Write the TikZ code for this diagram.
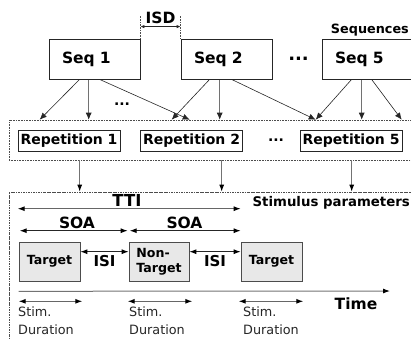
\documentclass[tikz,border=0pt]{standalone}
\usepackage{fontspec}
\setmainfont{DejaVu Sans}
\usetikzlibrary{calc, arrows.meta}

\begin{document}
\begin{tikzpicture}[x=1pt, y=-1pt,
  seqbox/.style={draw=black!85, line width=0.8pt, minimum height=40pt,
    text width=65pt, align=left, inner xsep=13pt, inner ysep=0pt,
    font=\bfseries\fontsize{15.5}{16}\selectfont},
  repbox/.style={draw=black!85, line width=0.6pt, inner xsep=2.5pt, inner ysep=0pt,
    minimum height=21pt, font=\bfseries\fontsize{14}{15}\selectfont},
  stimbox/.style={draw=black!70, fill=black!9, line width=0.6pt, minimum height=39pt,
    align=left, inner sep=0pt, font=\bfseries\fontsize{12.6}{15}\selectfont},
  lbl/.style={inner sep=0pt, font=\bfseries\fontsize{15.5}{16}\selectfont},
  durtxt/.style={anchor=north west, inner sep=0pt, align=left, text=black!85,
    font=\fontsize{12.8}{18}\selectfont},
  frame/.style={draw=black!70, line width=0.6pt, inner sep=0pt},
  seqarrow/.style={-{Latex[length=7pt,width=6pt]}, black!85, line width=0.6pt},
  grayarrow/.style={-{Latex[length=7pt,width=5pt,black]}, black!55, line width=1pt},
  twoway/.style={{Latex[length=7pt,width=5pt,black]}-{Latex[length=7pt,width=5pt,black]},
    line width=1pt}]
  \useasboundingbox (0,0) rectangle (411,338);
  \clip (0,0) rectangle (411,338);

  \node[seqbox] (seq1) at (94.5,59) {Seq 1};
  \node[seqbox] (seq2) at (226.5,59) {Seq 2};
  \node[seqbox] (seq5) at (367.5,59) {Seq 5};
  \node[lbl, font=\bfseries\fontsize{18}{18}\selectfont] (seqdots) at (298.5,59) {...};
  \node[lbl, anchor=base east, font=\bfseries\fontsize{12.8}{14}\selectfont] (seqlbl) at (409,33) {Sequences};

  \coordinate (isdA) at ($(seq1.north east)+(0,-23)$);
  \coordinate (isdB) at ($(seq2.north west)+(0,-23)$);
  \draw[densely dotted, black!70, line width=0.6pt] (seq1.north east) -- (isdA);
  \draw[densely dotted, black!70, line width=0.6pt] (seq2.north west) -- (isdB);
  \draw[{Latex[length=4pt,width=3.5pt]}-{Latex[length=4pt,width=3.5pt]}, black!85, line width=0.8pt]
    ($(isdA)+(0,11)$) -- ($(isdB)+(0,11)$);
  \node[lbl, anchor=base] (isd) at (160.5,23) {ISD};

  \node[frame, densely dotted, minimum width=411pt, minimum height=40pt] (reps) at (214.5,140) {};
  \node[repbox] (rep1) at (69,140.5) {Repetition 1};
  \node[repbox] (rep2) at (191.5,140.5) {Repetition 2};
  \node[repbox] (rep5) at (351,140.5) {Repetition 5};
  \node[lbl, font=\bfseries\fontsize{14}{14}\selectfont] (repdots) at (276,140) {...};
  \node[lbl, font=\bfseries\fontsize{14}{14}\selectfont] (arrdots) at (122,104) {...};

  \draw[seqarrow] ($(seq1.south west)+(31,0)$) -- ($(reps.north west)+(31,0)$);
  \draw[seqarrow] ($(seq1.south west)+(40,0)$) -- ($(reps.north west)+(80,0)$);
  \draw[seqarrow] ($(seq1.south west)+(51,0)$) -- ($(reps.north west)+(181,0)$);
  \draw[seqarrow] ($(seq2.south west)+(29,0)$) -- ($(reps.north west)+(163,0)$);
  \draw[seqarrow] ($(seq2.south west)+(39,0)$) -- ($(reps.north west)+(211,0)$);
  \draw[seqarrow] ($(seq2.south west)+(51,0)$) -- ($(reps.north west)+(307,0)$);
  \draw[seqarrow] ($(seq5.south west)+(30,0)$) -- ($(reps.north west)+(307,0)$);
  \draw[seqarrow] ($(seq5.south west)+(40,0)$) -- ($(reps.north west)+(353,0)$);
  \draw[seqarrow] ($(seq5.south west)+(50,0)$) -- ($(reps.north west)+(393,0)$);

  \node[frame, dash pattern=on 2.5pt off 1pt on 0.6pt off 1pt, minimum width=411pt,
    minimum height=158pt] (stim) at (214.5,271) {};
  \draw[grayarrow] ($(reps.south west)+(71,0)$) -- ($(stim.north west)+(71,0)$);
  \draw[grayarrow] ($(reps.south west)+(213,0)$) -- ($(stim.north west)+(213,0)$);
  \draw[grayarrow] ($(reps.south west)+(343,0)$) -- ($(stim.north west)+(343,0)$);
  \node[lbl, anchor=base east, font=\bfseries\fontsize{13.3}{14}\selectfont] (stimlbl) at (410,206) {Stimulus parameters};

  \node[stimbox, minimum width=61pt] (tgtA) at (49.5,261.5) {Target};
  \node[stimbox, minimum width=60pt] (nont) at (159,261.5) {Non-\\Target};
  \node[stimbox, minimum width=61pt] (tgtB) at (271.5,261.5) {Target};

  \draw[twoway, black!60] ($(tgtA.north west)+(-1,-33)$) -- ($(tgtB.north west)+(0,-33)$);
  \node[lbl, anchor=base, font=\bfseries\fontsize{16.5}{17}\selectfont] (tti) at (127,206) {TTI};
  \draw[twoway, black!85] ($(tgtA.north west)+(1,-11)$) -- ($(nont.north west)+(-1,-11)$);
  \draw[twoway, black!85] ($(nont.north west)+(1,-11)$) -- ($(tgtB.north west)+(0,-11)$);
  \node[lbl, anchor=base] (soaA) at (77,228) {SOA};
  \node[lbl, anchor=base] (soaB) at (184.5,228) {SOA};
  \draw[twoway, black!85] ($(tgtA.north east)+(0,10)$) -- ($(nont.north west)+(0,10)$);
  \draw[twoway, black!85] ($(nont.north east)+(0,10)$) -- ($(tgtB.north west)+(0,10)$);
  \node[lbl, anchor=base, font=\bfseries\fontsize{15}{16}\selectfont] (isiA) at (104.5,266) {ISI};
  \node[lbl, anchor=base, font=\bfseries\fontsize{15}{16}\selectfont] (isiB) at (215,266) {ISI};

  \coordinate (t0) at ($(tgtA.south west)+(0,10)$);
  \coordinate (tend) at (390,291);
  \draw[grayarrow] (t0) -- (tend);
  \node[lbl, anchor=base] (time) at (356,309) {Time};

  \draw[twoway, black!60] ($(tgtA.south west)+(0,20)$) -- ($(tgtA.south east)+(2,20)$);
  \draw[twoway, black!60] ($(nont.south west)+(-1,20)$) -- ($(nont.south east)+(3,20)$);
  \draw[twoway, black!60] ($(tgtB.south west)+(-2,20)$) -- ($(tgtB.south east)+(1,20)$);
  \node[durtxt] (durA) at (18,307) {Stim.\\Duration};
  \node[durtxt] (durB) at (129,307) {Stim.\\Duration};
  \node[durtxt] (durC) at (243,307) {Stim.\\Duration};
\end{tikzpicture}
\end{document}
